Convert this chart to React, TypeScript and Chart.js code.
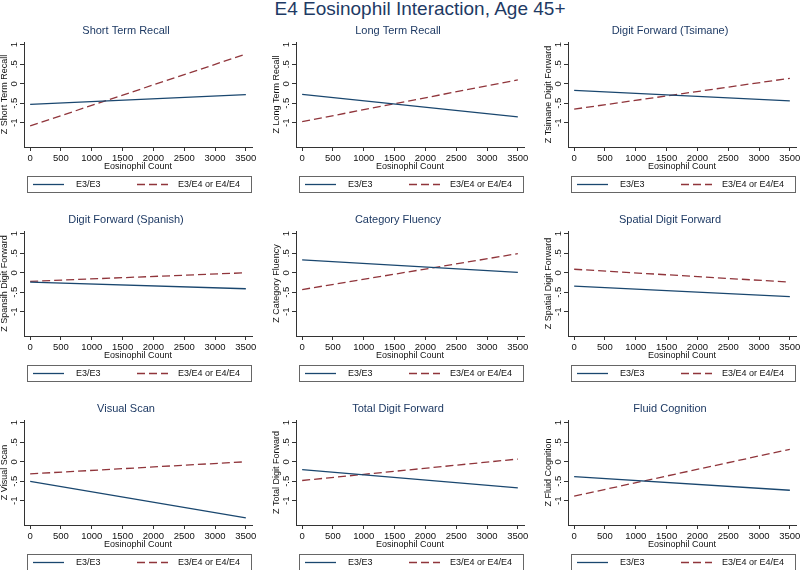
import React, { useEffect, useRef } from 'react';
import { Chart, registerables } from 'chart.js';

Chart.register(...registerables);

// ---------- data ----------
const mainTitle = 'E4 Eosinophil Interaction, Age 45+';
const xAxisTitle = 'Eosinophil Count';
const seriesNames = ['E3/E3', 'E3/E4 or E4/E4'];
const xValues = [0, 3500];
const xTicks = [0, 500, 1000, 1500, 2000, 2500, 3000, 3500];
const yTicks = [-1, -0.5, 0, 0.5, 1];
const yTickLabels = ['-1', '-.5', '0', '.5', '1'];

const panelTitles = [
  'Short Term Recall',
  'Long Term Recall',
  'Digit Forward (Tsimane)',
  'Digit Forward (Spanish)',
  'Category Fluency',
  'Spatial Digit Forward',
  'Visual Scan',
  'Total Digit Forward',
  'Fluid Cognition',
];
const yAxisTitles = [
  'Z Short Term Recall',
  'Z Long Term Recall',
  'Z Tsimane Digit Forward',
  'Z Spansih Digit Forward',
  'Z Category Fluency',
  'Z Spatial Digit Forward',
  'Z Visual Scan',
  'Z Total Digit Forward',
  'Z Fluid Cognition',
];

const shortTermE3E3 = [-0.53, -0.28];
const shortTermE4 = [-1.08, 0.76];
const longTermE3E3 = [-0.27, -0.85];
const longTermE4 = [-0.97, 0.1];
const tsimaneE3E3 = [-0.17, -0.44];
const tsimaneE4 = [-0.65, 0.14];
const spanishE3E3 = [-0.24, -0.41];
const spanishE4 = [-0.22, 0.0];
const fluencyE3E3 = [0.33, 0.01];
const fluencyE4 = [-0.43, 0.49];
const spatialE3E3 = [-0.34, -0.61];
const spatialE4 = [0.09, -0.24];
const visualE3E3 = [-0.5, -1.44];
const visualE4 = [-0.31, 0.0];
const totalE3E3 = [-0.2, -0.67];
const totalE4 = [-0.48, 0.07];
const fluidE3E3 = [-0.38, -0.73];
const fluidE4 = [-0.88, 0.32];

const e3e3Series = [shortTermE3E3, longTermE3E3, tsimaneE3E3, spanishE3E3, fluencyE3E3, spatialE3E3, visualE3E3, totalE3E3, fluidE3E3];
const e4Series = [shortTermE4, longTermE4, tsimaneE4, spanishE4, fluencyE4, spatialE4, visualE4, totalE4, fluidE4];

// ---------- style ----------
const FONT = '"Liberation Sans", Arial, Helvetica, sans-serif';
const NAVY = '#1a476f';
const MAROON = '#90353b';
const TITLE_COLOR = '#1e3a64';
const TEXT = '#111111';
const AXIS = '#333333';

const stataExtras = {
  id: 'stataExtras',
  afterDraw(chart: any) {
    const { ctx, chartArea, scales } = chart;
    const ys = scales.y;
    ctx.save();
    ctx.fillStyle = TEXT;
    ctx.font = `9.5px ${FONT}`;
    ctx.textAlign = 'center';
    ctx.textBaseline = 'middle';
    yTicks.forEach((v, i) => {
      const py = ys.getPixelForValue(v);
      ctx.save();
      ctx.translate(chartArea.left - 10, py);
      ctx.rotate(-Math.PI / 2);
      ctx.fillText(yTickLabels[i], 0, 0);
      ctx.restore();
    });
    // legend box
    const L = Math.round(chartArea.left + 3);
    const R = Math.round(chartArea.right - 1);
    const T = Math.round(chartArea.bottom + 29);
    const B = T + 16;
    ctx.strokeStyle = '#666666';
    ctx.lineWidth = 1;
    ctx.setLineDash([]);
    ctx.strokeRect(L + 0.5, T + 0.5, R - L, B - T);
    const cy = (T + B) / 2 + 0.5;
    chart.data.datasets.forEach((ds: any, i: number) => {
      const x0 = L + (i === 0 ? 6 : 110);
      ctx.beginPath();
      ctx.setLineDash(ds.borderDash || []);
      ctx.strokeStyle = ds.borderColor;
      ctx.lineWidth = ds.borderWidth;
      ctx.moveTo(x0, cy);
      ctx.lineTo(x0 + 31, cy);
      ctx.stroke();
      ctx.setLineDash([]);
      ctx.fillStyle = TEXT;
      ctx.textAlign = 'left';
      ctx.textBaseline = 'middle';
      ctx.font = `9px ${FONT}`;
      ctx.fillText(ds.label, x0 + (i === 0 ? 43 : 41), cy);
    });
    ctx.restore();
  },
};

function makeConfig(idx: number): any {
  const pts = (arr: number[]) => xValues.map((x, i) => ({ x, y: arr[i] }));
  return {
    type: 'line',
    data: {
      datasets: [
        {
          label: seriesNames[0],
          data: pts(e3e3Series[idx]),
          borderColor: NAVY,
          borderWidth: 1.3,
          pointRadius: 0,
          fill: false,
        },
        {
          label: seriesNames[1],
          data: pts(e4Series[idx]),
          borderColor: MAROON,
          borderWidth: 1.3,
          borderDash: [8, 4],
          pointRadius: 0,
          fill: false,
        },
      ],
    },
    options: {
      animation: false,
      responsive: false,
      maintainAspectRatio: false,
      layout: { padding: { left: 0, right: 18, top: 0, bottom: 22 } },
      plugins: {
        legend: { display: false },
        tooltip: { enabled: false },
        title: {
          display: true,
          text: panelTitles[idx],
          color: TITLE_COLOR,
          font: { size: 11, family: FONT, weight: 'normal', lineHeight: 1.2 },
          padding: { top: 4.4, bottom: 4.4 },
        },
      },
      scales: {
        x: {
          type: 'linear',
          min: -100,
          max: 3600,
          afterBuildTicks: (s: any) => {
            s.ticks = xTicks.map((v) => ({ value: v }));
          },
          afterFit: (s: any) => {
            s.height = 26;
            s.paddingLeft = 0;
            s.paddingRight = 0;
          },
          ticks: {
            font: { size: 9.5, family: FONT },
            color: TEXT,
            padding: 2,
            maxRotation: 0,
            minRotation: 0,
            autoSkip: false,
            callback: (v: any) => String(v),
          },
          grid: { drawOnChartArea: false, drawTicks: true, tickLength: 4, color: AXIS },
          border: { display: true, color: AXIS, width: 1 },
          title: {
            display: true,
            text: xAxisTitle,
            color: TEXT,
            font: { size: 9, family: FONT, lineHeight: 1.2 },
            padding: { top: 0, bottom: 1 },
          },
        },
        y: {
          type: 'linear',
          min: -1.62,
          max: 1.07,
          afterBuildTicks: (s: any) => {
            s.ticks = yTicks.map((v) => ({ value: v }));
          },
          afterFit: (s: any) => {
            s.width = 24;
            s.paddingTop = 0;
            s.paddingBottom = 0;
          },
          ticks: { display: false },
          grid: { drawOnChartArea: false, drawTicks: true, tickLength: 4, color: AXIS },
          border: { display: true, color: AXIS, width: 1 },
          title: {
            display: true,
            text: yAxisTitles[idx],
            color: TEXT,
            font: { size: 9, family: FONT, lineHeight: 1 },
            padding: 0,
          },
        },
      },
    },
    plugins: [stataExtras],
  };
}

const colLeft = [0, 272, 544];

function Panel({ idx }: { idx: number }) {
  const ref = useRef<HTMLCanvasElement>(null);
  useEffect(() => {
    if (!ref.current) return;
    const chart = new Chart(ref.current, makeConfig(idx));
    return () => chart.destroy();
  }, [idx]);
  const r = Math.floor(idx / 3);
  const c = idx % 3;
  return (
    <canvas
      ref={ref}
      width={270}
      height={175}
      style={{ position: 'absolute', left: colLeft[c], top: 20 + r * 189, width: 270, height: 175 }}
    />
  );
}

export default function App() {
  return (
    <div
      style={{
        position: 'absolute',
        left: 0,
        top: 0,
        width: 800,
        height: 570,
        overflow: 'hidden',
        background: '#ffffff',
        fontFamily: FONT,
      }}
    >
      <div
        style={{
          position: 'absolute',
          left: 420,
          top: -1,
          transform: 'translateX(-50%)',
          whiteSpace: 'nowrap',
          fontSize: 19,
          lineHeight: '19px',
          color: TITLE_COLOR,
        }}
      >
        {mainTitle}
      </div>
      {panelTitles.map((_, i) => (
        <Panel key={i} idx={i} />
      ))}
    </div>
  );
}
